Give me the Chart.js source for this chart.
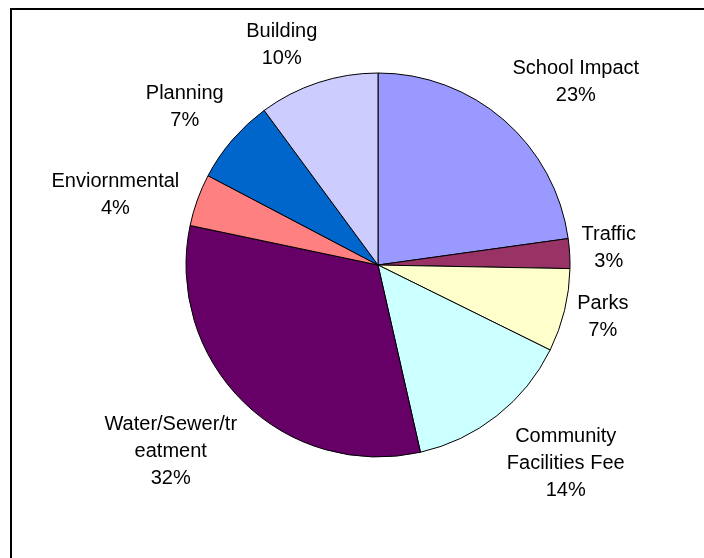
<!DOCTYPE html>
<html>
<head>
<meta charset="utf-8">
<script src="https://cdn.jsdelivr.net/npm/chart.js@4/dist/chart.umd.min.js"></script>
<style>
  html, body { margin: 0; padding: 0; background: #fff; }
  canvas { display: block; }
</style>
</head>
<body>
<canvas id="chart" width="704" height="558"></canvas>
<script>
// categories (multi-line labels as shown in the picture)
var categories = [
  "School Impact",
  "Traffic",
  "Parks",
  ["Community", "Facilities Fee"],
  ["Water/Sewer/tr", "eatment"],
  "Enviornmental",
  "Planning",
  "Building"
];
// share of fees, percent
var shares = [22.8, 2.5, 7.0, 14.15, 31.85, 4.4, 7.2, 10.1];
var sliceColors = ["#9999FF", "#993366", "#FFFFCC", "#CCFFFF", "#660066", "#FF8080", "#0066CC", "#CCCCFF"];

// small nudges so the labels sit where Excel put them
var labelNudge = [[17, -3], [-8, -3], [-6, -5], [20, 0], [-12, 7], [-3, 11], [-3, -2], [-19, 7]];

var frame = {
  id: "frame",
  afterDraw: function(chart) {
    var ctx = chart.ctx;
    ctx.save();
    ctx.strokeStyle = "#000";
    ctx.lineWidth = 2;
    ctx.beginPath();
    ctx.moveTo(11, 558);
    ctx.lineTo(11, 9);
    ctx.lineTo(704, 9);
    ctx.stroke();
    ctx.restore();
  }
};

var sliceLabels = {
  id: "sliceLabels",
  afterDatasetsDraw: function(chart) {
    var ctx = chart.ctx;
    var meta = chart.getDatasetMeta(0);
    var total = shares.reduce(function(a, b) { return a + b; }, 0);
    var lineH = 27;
    ctx.save();
    ctx.font = "20px 'Liberation Sans', Arial, sans-serif";
    ctx.fillStyle = "#000";
    ctx.textAlign = "center";
    ctx.textBaseline = "middle";
    meta.data.forEach(function(arc, i) {
      var p = arc.getProps(["x", "y", "startAngle", "endAngle", "outerRadius"], true);
      var mid = (p.startAngle + p.endAngle) / 2;
      var cx = Math.cos(mid), sy = Math.sin(mid);
      var lines = [].concat(categories[i]);
      lines.push(Math.round(shares[i] / total * 100) + "%");
      var w = 0;
      lines.forEach(function(l) { w = Math.max(w, ctx.measureText(l).width); });
      var h = lines.length * lineH;
      var r = p.outerRadius + 20;
      var x = p.x + cx * r + cx * w / 2 + labelNudge[i][0];
      var y = p.y + sy * r + sy * h / 2 + labelNudge[i][1];
      lines.forEach(function(l, k) {
        ctx.fillText(l, x, y - h / 2 + lineH / 2 + k * lineH);
      });
    });
    ctx.restore();
  }
};

new Chart(document.getElementById("chart"), {
  type: "pie",
  data: {
    labels: categories,
    datasets: [{
      data: shares,
      backgroundColor: sliceColors,
      borderColor: "#000",
      borderWidth: 1
    }]
  },
  options: {
    responsive: false,
    animation: false,
    layout: { padding: { left: 185.5, right: 133.5, top: 72.5, bottom: 100.5 } },
    plugins: {
      legend: { display: false },
      tooltip: { enabled: false }
    }
  },
  plugins: [sliceLabels, frame]
});
</script>
</body>
</html>
